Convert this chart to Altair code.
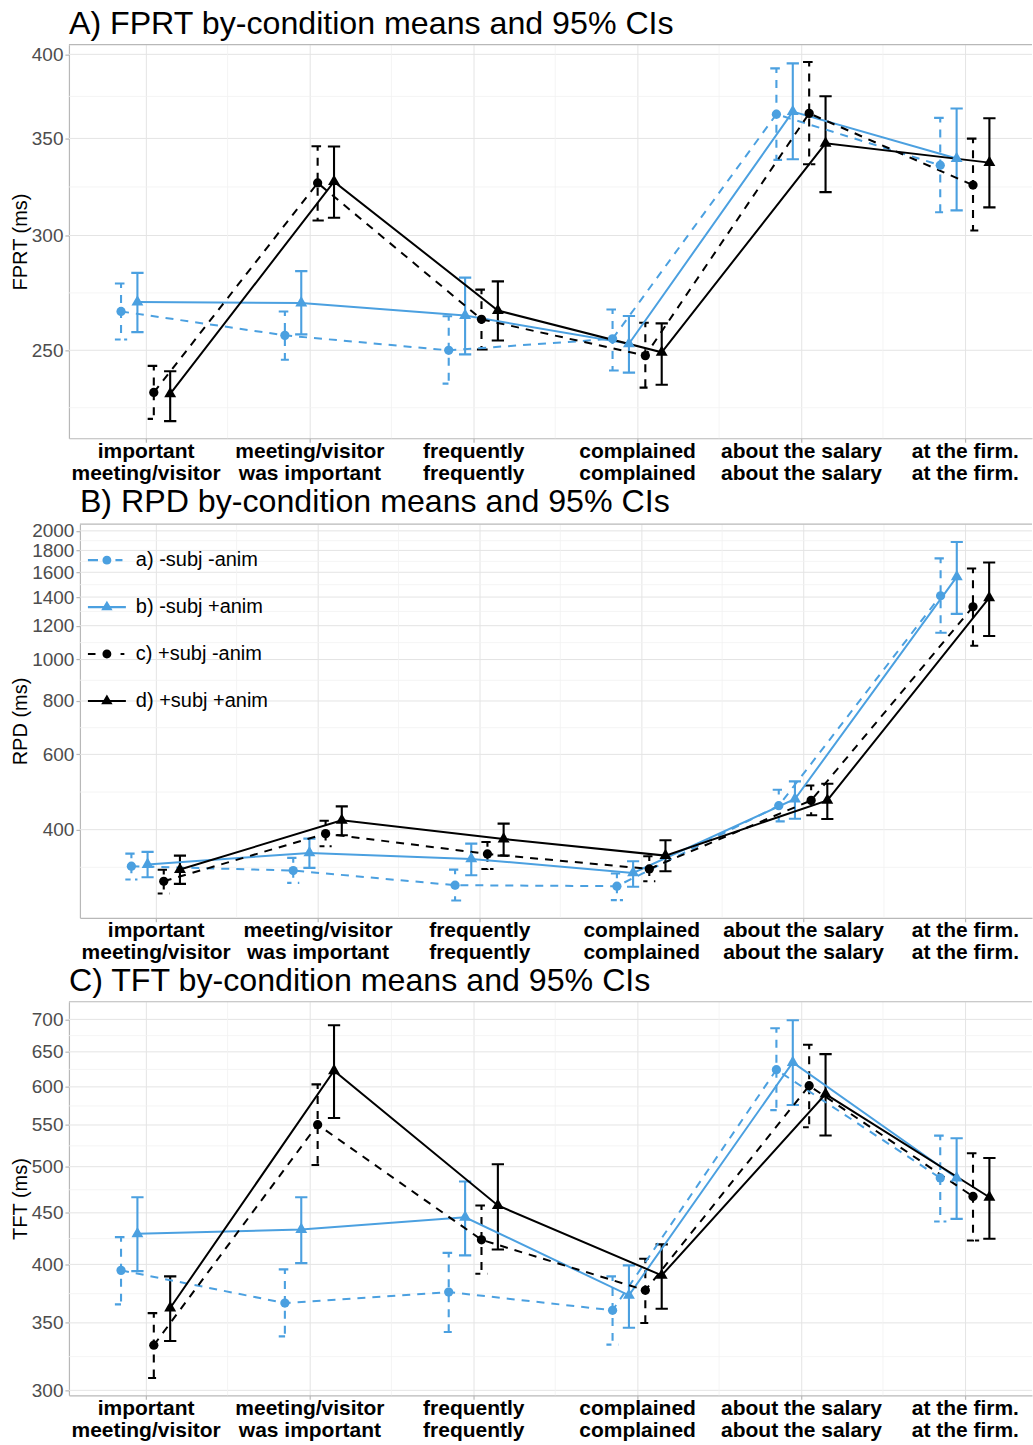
import json
import numpy as np
import pandas as pd
import altair as alt

FONT = "Liberation Sans"
BLUE = "#4BA0E0"
BORDER = "#B8B8B8"
GRID_MAJOR = "#E4E4E4"
GRID_MINOR = "#F1F1F1"

CONDITIONS = ["a) -subj -anim", "b) -subj +anim", "c) +subj -anim", "d) +subj +anim"]
X_LINE1 = ["important", "meeting/visitor", "frequently", "complained", "about the salary", "at the firm."]
X_LINE2 = ["meeting/visitor", "was important", "frequently", "complained", "about the salary", "at the firm."]

# ---- Panel A: FPRT (rows = conditions a..d, columns = regions 1..6)
FPRT_TICKS = [250, 300, 350, 400]
FPRT_MEAN = [
    [265.9, 256.0, 250.0, 254.6, 363.7, 335.4],
    [269.9, 269.5, 264.2, 252.6, 365.2, 339.0],
    [233.8, 326.1, 262.6, 247.9, 364.2, 325.0],
    [233.3, 326.8, 266.3, 249.2, 347.3, 336.8],
]
FPRT_LO = [
    [254.3, 246.3, 237.1, 242.1, 338.3, 311.3],
    [257.3, 256.4, 248.4, 241.3, 338.6, 312.2],
    [224.2, 307.2, 250.3, 235.6, 335.9, 302.4],
    [223.4, 308.6, 253.9, 236.7, 321.4, 313.7],
]
FPRT_HI = [
    [278.0, 265.9, 263.9, 266.7, 391.2, 361.6],
    [282.7, 283.5, 280.6, 264.0, 394.3, 367.0],
    [243.9, 345.7, 275.3, 261.2, 395.2, 349.9],
    [241.8, 345.5, 278.9, 260.9, 374.2, 361.4],
]

# ---- Panel B: RPD
RPD_TICKS = [400, 600, 800, 1000, 1200, 1400, 1600, 1800, 2000]
RPD_MEAN = [
    [328.5, 320.9, 296.6, 295.0, 455.1, 1409.5],
    [331.6, 352.9, 341.7, 316.9, 471.8, 1561.0],
    [302.9, 391.5, 350.9, 323.7, 468.3, 1328.6],
    [322.6, 420.5, 380.5, 347.8, 468.3, 1394.0],
]
RPD_LO = [
    [305.7, 300.3, 273.1, 273.6, 418.3, 1155.0],
    [309.5, 325.6, 312.9, 294.0, 424.3, 1279.0],
    [283.6, 365.7, 323.7, 303.0, 432.1, 1077.0],
    [298.7, 388.0, 347.8, 319.8, 423.6, 1135.0],
]
RPD_HI = [
    [351.6, 343.6, 322.6, 315.8, 495.9, 1724.0],
    [354.8, 381.1, 371.0, 337.3, 518.8, 1884.0],
    [322.4, 419.8, 374.3, 346.6, 507.6, 1633.0],
    [347.8, 453.5, 413.1, 377.7, 512.1, 1686.0],
]

# ---- Panel C: TFT
TFT_TICKS = [300, 350, 400, 450, 500, 550, 600, 650, 700]
TFT_MEAN = [
    [394.6, 366.2, 375.5, 360.2, 624.0, 487.3],
    [428.9, 433.2, 445.5, 372.7, 634.4, 487.3],
    [332.6, 550.4, 423.1, 377.0, 601.6, 467.1],
    [362.1, 622.5, 457.6, 390.1, 590.2, 466.3],
]
TFT_LO = [
    [365.1, 339.4, 342.8, 333.0, 569.0, 441.2],
    [393.9, 401.2, 408.3, 346.1, 575.6, 443.8],
    [308.6, 501.9, 391.5, 349.9, 547.1, 422.5],
    [335.8, 558.8, 413.9, 361.5, 536.9, 424.1],
]
TFT_HI = [
    [425.7, 395.5, 410.7, 389.2, 686.0, 536.8],
    [466.3, 466.3, 483.3, 399.1, 698.6, 533.6],
    [357.9, 603.4, 457.6, 405.2, 660.6, 515.6],
    [389.2, 690.6, 502.8, 418.7, 646.6, 510.1],
]

# ---- styling
TRI = "M0,-1L0.866,0.5L-0.866,0.5Z"
S_COLOR = [BLUE, BLUE, "black", "black"]
S_DASH = [[8, 7], None, [8, 7], None]
S_SHAPE = ["circle", TRI, "circle", TRI]
S_SIZE = [86, 190, 86, 190]
DODGE = [-0.15, -0.05, 0.05, 0.15]
HALF_CAP = 0.0375
X_MIN = 0.532

_c = "M{r},0A{r},{r} 0 1,1 -{r},0A{r},{r} 0 1,1 {r},0Z".format(r=0.235)
_t = "M0,-0.34L0.3,0.17L-0.3,0.17Z"
LEGEND_PATHS = [
    "M-1,-0.055H-0.47V0.055H-1Z M0.45,-0.055H0.82V0.055H0.45Z " + _c,
    "M-1,-0.055H1V0.055H-1Z " + _t,
    "M-1,-0.055H-0.6V0.055H-1Z M0.72,-0.055H0.92V0.055H0.72Z " + _c,
    "M-1,-0.055H1V0.055H-1Z " + _t,
]

LABEL_EXPR = json.dumps([[a, b] for a, b in zip(X_LINE1, X_LINE2)]) + "[datum.value - 1]"


def minor_breaks(major, lo, hi):
    lg = list(np.log(major))
    bd = lg[1] - lg[0]
    ext = [lg[0] - bd] + lg + [lg[-1] + bd]
    mids = [float(np.exp((ext[i] + ext[i + 1]) / 2)) for i in range(len(ext) - 1)]
    return [m for m in mids if lo <= m <= hi]


def panel(title, ytitle, means, los, his, ticks, ydomain, xspace, shift=0, legend=False):
    width = 964
    xmax = X_MIN + (width - shift) / xspace
    xscale = alt.Scale(domain=[X_MIN, xmax], nice=False, zero=False, range=[shift, width])
    yscale = alt.Scale(type="log", domain=ydomain, nice=False)
    xaxis = alt.Axis(
        values=[1, 2, 3, 4, 5, 6], labelExpr=LABEL_EXPR, title=None,
        grid=True, gridColor=GRID_MAJOR, gridWidth=1,
        domainColor=BORDER, domainWidth=1.2, tickColor=BORDER, tickSize=4, tickWidth=1.2,
        labelFont=FONT, labelFontSize=21, labelFontWeight="bold", labelColor="black",
        labelPadding=-2, labelLineHeight=22, labelFlush=False, labelOverlap=False, labelBound=False,
    )
    yaxis = alt.Axis(
        values=ticks, format="d", title=ytitle, offset=-shift,
        titleFont=FONT, titleFontSize=20, titleFontWeight="normal", titleColor="black", titlePadding=1,
        labelFont=FONT, labelFontSize=19, labelColor="#4D4D4D", labelPadding=2,
        grid=False,
        domainColor=BORDER, domainWidth=1.2, tickColor=BORDER, tickSize=4, tickWidth=1.2,
        labelFlush=False, labelOverlap=False,
    )

    def X():
        return alt.X("x:Q", scale=xscale, axis=xaxis)

    def Y():
        return alt.Y("y:Q", scale=yscale, axis=yaxis)

    def hrules(vals, color, w):
        df = pd.DataFrame({"y": vals, "x": [X_MIN] * len(vals), "x2": [xmax] * len(vals)})
        return alt.Chart(df).mark_rule(color=color, strokeWidth=w).encode(x=X(), x2="x2:Q", y=Y())

    layers = []
    layers.append(hrules(minor_breaks(ticks, ydomain[0], ydomain[1]), GRID_MINOR, 0.8))
    layers.append(hrules(ticks, GRID_MAJOR, 1))
    vminor = pd.DataFrame({"x": [1.5, 2.5, 3.5, 4.5, 5.5]})
    layers.append(alt.Chart(vminor).mark_rule(color=GRID_MINOR, strokeWidth=0.8).encode(x=X()))
    layers.append(hrules([ydomain[1]], BORDER, 1.2))

    # error bars drawn as one path each (cap, stem, cap) like ggplot
    for s in range(4):
        rows = []
        for i in range(6):
            p = i + 1 + DODGE[s]
            hi, lo = his[s][i], los[s][i]
            pts = [(p - HALF_CAP, hi), (p + HALF_CAP, hi), (p, hi), (p, lo), (p - HALF_CAP, lo), (p + HALF_CAP, lo)]
            for k, (xx, yy) in enumerate(pts):
                rows.append({"x": xx, "y": yy, "cat": i, "k": k})
        kw = dict(color=S_COLOR[s], strokeWidth=2.1)
        if S_DASH[s]:
            kw["strokeDash"] = S_DASH[s]
        layers.append(
            alt.Chart(pd.DataFrame(rows)).mark_line(**kw).encode(
                x=X(), y=Y(), detail="cat:N", order="k:Q"
            )
        )
    for s in range(4):
        df = pd.DataFrame({"x": [i + 1 + DODGE[s] for i in range(6)], "y": means[s]})
        kw = dict(color=S_COLOR[s], strokeWidth=2)
        if S_DASH[s]:
            kw["strokeDash"] = S_DASH[s]
        layers.append(alt.Chart(df).mark_line(**kw).encode(x=X(), y=Y(), order="x:Q"))
    for s in range(4):
        df = pd.DataFrame({"x": [i + 1 + DODGE[s] for i in range(6)], "y": means[s]})
        layers.append(
            alt.Chart(df).mark_point(
                filled=True, shape=S_SHAPE[s], size=S_SIZE[s], color=S_COLOR[s], opacity=1, strokeWidth=0
            ).encode(x=X(), y=Y())
        )
    if legend:
        leg = alt.Legend(
            title=None, orient="none", legendX=8 + shift, legendY=17, direction="vertical",
            labelFont=FONT, labelFontSize=20, labelColor="black", labelOffset=10,
            rowPadding=18, symbolSize=1444, symbolStrokeWidth=0, symbolOpacity=1, padding=0,
        )
        ldf = pd.DataFrame({"key": CONDITIONS})
        layers.append(
            alt.Chart(ldf).mark_point(filled=True, opacity=1, strokeWidth=0).encode(
                shape=alt.Shape("key:N", scale=alt.Scale(domain=CONDITIONS, range=LEGEND_PATHS), legend=leg),
                fill=alt.Fill("key:N", scale=alt.Scale(domain=CONDITIONS, range=S_COLOR), legend=leg),
            ).transform_filter("false")
        )

    return alt.layer(*layers).properties(
        width=width, height=394,
        title=alt.TitleParams(
            text=title, anchor="start", frame="group", font=FONT, fontSize=32.2,
            fontWeight="normal", color="black", offset=-21.9, baseline="alphabetic", dx=shift,
        ),
    )


pa = panel("A) FPRT by-condition means and 95% CIs", "FPRT (ms)", FPRT_MEAN, FPRT_LO, FPRT_HI,
           FPRT_TICKS, [217.4, 406.2], 164.0)
pb = panel("B) RPD by-condition means and 95% CIs", "RPD (ms)", RPD_MEAN, RPD_LO, RPD_HI,
           RPD_TICKS, [248.8, 2073.0], 162.0, shift=11, legend=True)
pc = panel("C) TFT by-condition means and 95% CIs", "TFT (ms)", TFT_MEAN, TFT_LO, TFT_HI,
           TFT_TICKS, [296.6, 728.8], 164.0)

chart = (
    alt.vconcat(pa, pb, pc, spacing=2)
    .resolve_scale(shape="independent", fill="independent")
    .resolve_legend(shape="independent", fill="independent")
    .properties(padding={"left": 10, "top": 7, "right": 0, "bottom": 0}, background="white")
    .configure_view(stroke=None)
)

chart.save("out.html", embed_options={"renderer": "svg", "actions": False})
